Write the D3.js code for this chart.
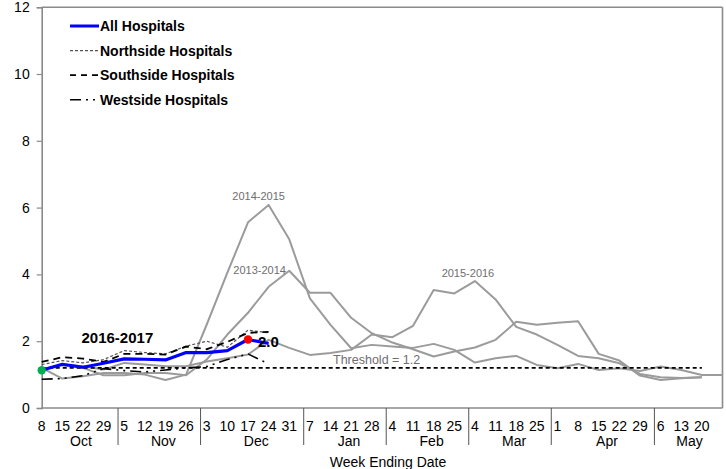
<!DOCTYPE html>
<html>
<head>
<meta charset="utf-8">
<script src="https://cdn.jsdelivr.net/npm/d3@7"></script>
<style>
  html, body { margin: 0; padding: 0; background: #fff; }
  svg { display: block; font-family: "Liberation Sans", Arial, sans-serif; }
</style>
</head>
<body>
<svg id="chart" width="726" height="469"></svg>
<script>
// ---- data ----
const weekDays = [8,15,22,29, 5,12,19,26, 3,10,17,24,31, 7,14,21,28, 4,11,18,25, 4,11,18,25, 1,8,15,22,29, 6,13,20, ""];
const monthNames = ["Oct","Nov","Dec","Jan","Feb","Mar","Apr","May"];
const monthWeeks = [4,4,5,4,4,4,5,3];
const yTicks = [0,2,4,6,8,10,12];
const threshold = 1.2;

const allHospitals = [1.13,1.31,1.22,1.34,1.47,1.46,1.44,1.66,1.66,1.72,2.05,1.93];
const northside    = [1.30,1.42,1.35,1.45,1.72,1.66,1.62,1.85,2.00,1.82,2.33,2.25];
const southside    = [1.38,1.52,1.48,1.38,1.62,1.62,1.60,1.84,1.76,1.98,2.25,2.28];
const westside     = [0.86,0.88,0.97,1.18,1.12,1.08,1.14,1.20,1.24,1.45,1.62,1.32];

const season1314 = [1.15,1.28,1.20,0.98,0.98,1.05,1.05,0.98,1.45,2.20,2.85,3.63,4.11,3.45,3.45,2.70,2.24,1.96,1.76,1.54,1.69,1.81,2.04,2.58,2.49,2.55,2.60,1.62,1.42,0.97,0.84,0.89,0.92];
const season1415 = [1.20,0.88,0.95,1.05,1.05,1.00,0.84,1.00,2.50,4.05,5.56,6.08,5.05,3.28,2.49,1.79,1.89,1.84,1.80,1.92,1.74,1.36,1.49,1.56,1.29,1.19,1.32,1.14,1.19,1.11,1.24,1.14,0.99,0.99];
const season1516 = [1.15,1.30,1.25,1.15,1.35,1.30,1.25,1.25,1.39,1.49,1.60,2.04,1.80,1.59,1.65,1.74,2.20,2.12,2.46,3.53,3.43,3.80,3.25,2.43,2.20,1.89,1.56,1.49,1.34,1.02,0.92,0.90,0.92];

const seasonLabels = [
  {name:"2014-2015", series: season1415, idx: 11, dx: -10, dy: -5},
  {name:"2013-2014", series: season1314, idx: 11, dx: -9,  dy: -13},
  {name:"2015-2016", series: season1516, idx: 21, dx: -7,  dy: -4}
];

// ---- layout ----
const svg = d3.select("#chart");
const x = d3.scalePoint().domain(d3.range(weekDays.length)).range([41.7, 722.5]);
const y = d3.scaleLinear().domain([0, 12]).range([408, 7.2]);
const step = x.step();

const frameColor = "#8a8a8a";

// frame (top & right)
svg.append("line").attr("x1", x(0)).attr("x2", x(33)).attr("y1", y(12)).attr("y2", y(12))
  .attr("stroke", frameColor).attr("stroke-width", 1.6);
svg.append("line").attr("x1", x(33)).attr("x2", x(33)).attr("y1", y(12)).attr("y2", y(0))
  .attr("stroke", frameColor).attr("stroke-width", 1.6);

// y axis
const yAxis = svg.append("g").attr("transform", `translate(${x(0)},0)`)
  .call(d3.axisLeft(y).tickValues(yTicks).tickSize(5).tickPadding(7).tickFormat(d3.format("d")));
yAxis.select(".domain").attr("stroke", frameColor).attr("stroke-width", 1.6);
yAxis.selectAll(".tick line").attr("stroke", frameColor).attr("stroke-width", 1.2);
yAxis.selectAll("text").attr("font-size", 14).attr("fill", "#000")
  .attr("font-family", "'Liberation Sans', Arial, sans-serif");

// x axis line
svg.append("line").attr("x1", x(0)).attr("x2", x(33)).attr("y1", y(0)).attr("y2", y(0))
  .attr("stroke", frameColor).attr("stroke-width", 1.6);

// day labels
svg.append("g").selectAll("text").data(weekDays).join("text")
  .attr("x", (d, i) => x(i)).attr("y", 430.5)
  .attr("text-anchor", "middle").attr("font-size", 14).attr("fill", "#000")
  .text(d => d);

// month groups
let start = 0;
const monthInfo = monthNames.map((m, k) => {
  const info = {name: m, first: start, n: monthWeeks[k]};
  start += monthWeeks[k];
  return info;
});
svg.append("g").selectAll("line").data(monthInfo.slice(1)).join("line")
  .attr("x1", d => x(d.first) - 0.3 * step).attr("x2", d => x(d.first) - 0.3 * step)
  .attr("y1", y(0)).attr("y2", 445)
  .attr("stroke", "#555").attr("stroke-width", 1);
svg.append("g").selectAll("text").data(monthInfo).join("text")
  .attr("x", d => x(d.first) + ((d.n - 1) / 2 + 0.4) * step).attr("y", 445.5)
  .attr("text-anchor", "middle").attr("font-size", 14).attr("fill", "#000")
  .text(d => d.name);

svg.append("text").attr("x", 388).attr("y", 466.5).attr("text-anchor", "middle")
  .attr("font-size", 14).attr("fill", "#000").text("Week Ending Date");

// line generator
const line = d3.line().x((d, i) => x(i)).y(d => y(d));

// historical seasons
[season1314, season1415, season1516].forEach(s => {
  svg.append("path").datum(s).attr("d", line)
    .attr("fill", "none").attr("stroke", "#9b9b9b").attr("stroke-width", 2)
    .attr("stroke-linejoin", "round");
});
seasonLabels.forEach(l => {
  svg.append("text").attr("x", x(l.idx) + l.dx).attr("y", y(l.series[l.idx]) + l.dy)
    .attr("text-anchor", "middle").attr("font-size", 11).attr("fill", "#6e6e6e").text(l.name);
});

// threshold
svg.append("line").attr("x1", x(0)).attr("x2", x(32)).attr("y1", y(threshold)).attr("y2", y(threshold))
  .attr("stroke", "#000").attr("stroke-width", 1.6).attr("stroke-dasharray", "4,3");
svg.append("text").attr("x", 333).attr("y", y(threshold) - 3.5)
  .attr("font-size", 12.5).attr("fill", "#6e6e6e").text("Threshold = " + threshold);

// regional lines
const styles = {
  north: {stroke: "#555", width: 1.2, dash: "3,2"},
  south: {stroke: "#000", width: 1.8, dash: "7,5"},
  west:  {stroke: "#000", width: 1.6, dash: "11,5,2,5,2,5"}
};
[[northside, styles.north], [southside, styles.south], [westside, styles.west]].forEach(([s, st]) => {
  svg.append("path").datum(s).attr("d", line).attr("fill", "none")
    .attr("stroke", st.stroke).attr("stroke-width", st.width).attr("stroke-dasharray", st.dash);
});

// all hospitals
svg.append("path").datum(allHospitals).attr("d", line).attr("fill", "none")
  .attr("stroke", "#0000ff").attr("stroke-width", 3.2).attr("stroke-linejoin", "round");
svg.append("circle").attr("cx", x(0)).attr("cy", y(allHospitals[0])).attr("r", 4.2).attr("fill", "#00b050");
const peakIdx = 10;
svg.append("circle").attr("cx", x(peakIdx)).attr("cy", y(allHospitals[peakIdx])).attr("r", 4.2).attr("fill", "#ff0000");

svg.append("text").attr("x", x(peakIdx) + 10).attr("y", y(allHospitals[peakIdx]) + 7.5)
  .attr("font-size", 15).attr("font-weight", "bold").attr("fill", "#000")
  .text(d3.format(".1f")(allHospitals[peakIdx]));
svg.append("text").attr("x", 81.5).attr("y", 343)
  .attr("font-size", 15).attr("font-weight", "bold").attr("fill", "#000").text("2016-2017");

// legend
const legendItems = [
  {label: "All Hospitals", stroke: "#0000ff", width: 3, dash: null},
  {label: "Northside Hospitals", stroke: "#555", width: 1.2, dash: "3,2"},
  {label: "Southside Hospitals", stroke: "#000", width: 1.8, dash: "6,5"},
  {label: "Westside Hospitals", stroke: "#000", width: 1.6, dash: "11,5,2,5,2,5"}
];
const lg = svg.append("g").selectAll("g").data(legendItems).join("g")
  .attr("transform", (d, i) => `translate(70,${26 + i * 24.6})`);
lg.append("line").attr("x1", 0).attr("x2", 29).attr("y1", 0).attr("y2", 0)
  .attr("stroke", d => d.stroke).attr("stroke-width", d => d.width)
  .attr("stroke-dasharray", d => d.dash);
lg.append("text").attr("x", 30).attr("y", 5).attr("font-size", 14).attr("font-weight", "bold")
  .attr("fill", "#000").text(d => d.label);
</script>
</body>
</html>
